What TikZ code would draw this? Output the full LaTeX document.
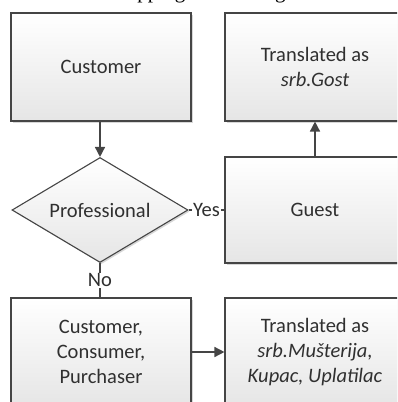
\documentclass[tikz,border=0pt]{standalone}
\usepackage{fontspec}
\setmainfont{Carlito}
\newfontfamily\capfont{Liberation Serif}
\usetikzlibrary{arrows.meta,shapes.geometric,shadows}
\definecolor{edge}{HTML}{454545}
\definecolor{ink}{HTML}{303030}
\begin{document}
\begin{tikzpicture}[x=1pt,y=-1pt,
  boxfill/.style={draw=edge, line width=1.1pt, top color=white, bottom color=black!10,
    drop shadow={shadow xshift=1.6pt, shadow yshift=-1.6pt, fill=black!35, opacity=.45}},
  box/.style={boxfill, rectangle, minimum width=180pt, minimum height=108pt,
    inner sep=0pt, align=center, text=ink, font=\fontsize{20.5}{25}\selectfont},
  decision/.style={boxfill, diamond, aspect=2, minimum width=176pt, minimum height=105pt,
    inner sep=0pt, text=ink, font=\fontsize{20.5}{25}\selectfont},
  conn/.style={draw=edge, line width=1.5pt},
  tip/.style={-{Triangle[length=10pt,width=10pt]}},
  lbl/.style={fill=white, inner sep=1pt, text=ink, font=\fontsize{20.5}{25}\selectfont}]
\useasboundingbox (0,0) rectangle (397,402);
\clip (0,0) rectangle (397,402);

% caption line above the chart, cut by the top edge
\node[anchor=base, inner sep=0pt, text=black, font=\capfont\fontsize{21}{25}\selectfont]
  (caption) at (197.5,-1.5) {Mapping of meaning};

% left column
\node[box] (cust) at (101,67) {Customer};
\node[decision] (prof) at (100,210) {Professional};
\node[box] (ccp) at (101,352) {Customer,\\Consumer,\\Purchaser};

% right column
\node[box] (gost) at (315,67) {Translated as\\\textit{srb.Gost}};
\node[box, minimum height=106pt] (guest) at (315,210) {Guest};
\node[box] (must) at (315,352) {Translated as\\\textit{srb.Mušterija,}\\\textit{Kupac, Uplatilac}};

% connectors
\draw[conn,tip] (cust.south -| prof.north) -- (prof.north);
\draw[conn] (prof.east) -- node[lbl] {Yes} (guest.west);
\draw[conn,tip] (guest.north) -- (gost.south);
\draw[conn] (prof.south) -- node[lbl] {No} (ccp.north -| prof.south);
\draw[conn,tip] (ccp.east) -- (must.west);
\end{tikzpicture}
\end{document}
